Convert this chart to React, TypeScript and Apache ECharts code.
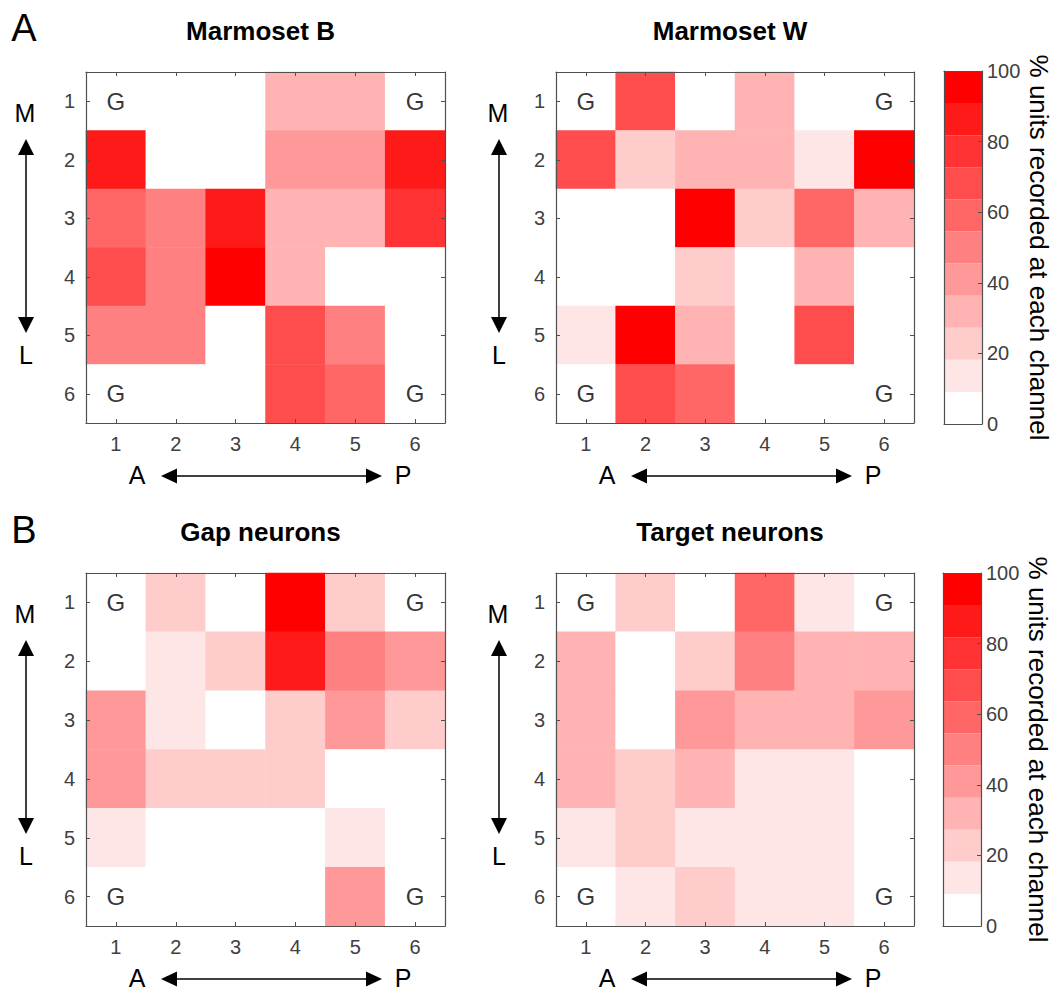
import React, { useEffect, useRef } from 'react';
import * as echarts from 'echarts';

// ---------- data ----------
const rowLabels = ['1', '2', '3', '4', '5', '6'];
const colLabels = ['1', '2', '3', '4', '5', '6'];
const panelTitles = ['Marmoset B', 'Marmoset W', 'Gap neurons', 'Target neurons'];
const panelLetters = ['A', 'B'];
const colorbarLabel = '% units recorded at each channel';
// 11-step white -> red colormap (0..100 in 11 bins)
const levelColors = ['#ffffff', '#ffe6e6', '#ffcccc', '#ffb3b3', '#ff9999', '#ff8080', '#ff6666', '#ff4d4d', '#ff3333', '#ff1a1a', '#ff0000'];
// percent of units recorded at each channel (rows = M..L, cols = A..P)
const marmosetB = [
  [0, 0, 0, 32, 32, 0],
  [86, 0, 0, 41, 41, 86],
  [59, 50, 86, 32, 32, 77],
  [68, 50, 95, 32, 0, 0],
  [50, 50, 0, 68, 50, 0],
  [0, 0, 0, 68, 59, 0],
];
const marmosetW = [
  [0, 68, 0, 32, 0, 0],
  [68, 23, 32, 32, 14, 95],
  [0, 0, 95, 23, 59, 32],
  [0, 0, 23, 0, 32, 0],
  [14, 95, 32, 0, 68, 0],
  [0, 68, 59, 0, 0, 0],
];
const gapNeurons = [
  [0, 23, 0, 95, 23, 0],
  [0, 14, 23, 86, 50, 41],
  [41, 14, 0, 23, 41, 23],
  [41, 23, 23, 23, 0, 0],
  [14, 0, 0, 0, 14, 0],
  [0, 0, 0, 0, 41, 0],
];
const targetNeurons = [
  [0, 23, 0, 59, 14, 0],
  [32, 0, 23, 50, 32, 32],
  [32, 0, 41, 32, 32, 41],
  [32, 23, 32, 14, 14, 0],
  [14, 23, 14, 14, 14, 0],
  [0, 14, 23, 14, 14, 0],
];
const gCells = [[0, 0], [5, 0], [0, 5], [5, 5]];

// ---------- layout ----------
const FONT = "'Liberation Sans', Arial, Helvetica, sans-serif";
const AXIS_COLOR = '#505050';
const LABEL_COLOR = '#404040';
const panels = [
  { left: 86, top: 72, width: 359, height: 351, arrowX: 26 },
  { left: 556, top: 72, width: 358, height: 351, arrowX: 499 },
  { left: 86, top: 573, width: 359, height: 353, arrowX: 26 },
  { left: 556, top: 573, width: 358, height: 353, arrowX: 499 },
];
const colorbars = [
  { left: 944, top: 71, width: 38, height: 353 },
  { left: 943, top: 573, width: 38, height: 353 },
];

function vArrow(x: number, y1: number, y2: number) {
  const h = 16, w = 8;
  return [
    { type: 'line', shape: { x1: x, y1: y1 + h - 2, x2: x, y2: y2 - h + 2 }, style: { stroke: '#000', lineWidth: 1.5 } },
    { type: 'polygon', shape: { points: [[x, y1], [x - w, y1 + h], [x + w, y1 + h]] }, style: { fill: '#000' } },
    { type: 'polygon', shape: { points: [[x, y2], [x - w, y2 - h], [x + w, y2 - h]] }, style: { fill: '#000' } },
  ];
}
function hArrow(y: number, x1: number, x2: number) {
  const h = 16, w = 7.5;
  return [
    { type: 'line', shape: { x1: x1 + h - 2, y1: y, x2: x2 - h + 2, y2: y }, style: { stroke: '#000', lineWidth: 1.5 } },
    { type: 'polygon', shape: { points: [[x1, y], [x1 + h, y - w], [x1 + h, y + w]] }, style: { fill: '#000' } },
    { type: 'polygon', shape: { points: [[x2, y], [x2 - h, y - w], [x2 - h, y + w]] }, style: { fill: '#000' } },
  ];
}
function txt(text: string, x: number, y: number, fontSize: number, fontWeight = 'normal') {
  return {
    type: 'text', x, y, z: 20,
    style: {
      text, fill: '#000', fontSize, fontWeight, fontFamily: FONT,
      align: 'center', verticalAlign: 'middle', textAlign: 'center', textVerticalAlign: 'middle',
    },
  };
}

export default function App() {
  const ref = useRef<HTMLDivElement>(null);
  useEffect(() => {
    document.body.style.margin = '0';
    const chart = echarts.init(ref.current!, undefined, { renderer: 'svg' });
    const matrices = [marmosetB, marmosetW, gapNeurons, targetNeurons];

    const grids: any[] = [];
    const xAxes: any[] = [];
    const yAxes: any[] = [];
    const series: any[] = [];
    const tick = (show: boolean) => ({ show, inside: true, length: 4, alignWithLabel: true, lineStyle: { color: AXIS_COLOR } });
    const line = { show: true, onZero: false, lineStyle: { color: AXIS_COLOR, width: 1.2 } };
    const lbl = (show: boolean) => ({ show, fontSize: 20, color: LABEL_COLOR, margin: 11, fontFamily: FONT });

    panels.forEach((p, i) => {
      grids.push({ left: p.left, top: p.top, width: p.width, height: p.height });
      xAxes.push({ type: 'category', gridIndex: i, data: colLabels, position: 'bottom', z: 10, axisLine: line, axisTick: tick(true), axisLabel: lbl(true), splitLine: { show: false } });
      xAxes.push({ type: 'category', gridIndex: i, data: colLabels, position: 'top', z: 10, axisLine: line, axisTick: tick(true), axisLabel: lbl(false), splitLine: { show: false } });
      yAxes.push({ type: 'category', gridIndex: i, data: rowLabels, inverse: true, position: 'left', z: 10, axisLine: line, axisTick: tick(true), axisLabel: lbl(true), splitLine: { show: false } });
      yAxes.push({ type: 'category', gridIndex: i, data: rowLabels, inverse: true, position: 'right', z: 10, axisLine: line, axisTick: tick(true), axisLabel: lbl(false), splitLine: { show: false } });
    });

    matrices.forEach((m, i) => {
      const data: number[][] = [];
      m.forEach((row, r) => row.forEach((v, c) => data.push([c, r, v])));
      series.push({
        type: 'heatmap', xAxisIndex: 2 * i, yAxisIndex: 2 * i, data, silent: true,
        itemStyle: { borderWidth: 0 }, emphasis: { disabled: true },
      });
    });
    matrices.forEach((_, i) => {
      series.push({
        type: 'scatter', xAxisIndex: 2 * i, yAxisIndex: 2 * i, data: gCells, silent: true,
        symbolSize: 1, itemStyle: { color: 'rgba(0,0,0,0)' }, z: 6,
        label: { show: true, position: 'inside', formatter: 'G', fontSize: 24, color: '#000', fontFamily: FONT },
      });
    });

    colorbars.forEach((cb, c) => {
      const gi = panels.length + c;
      grids.push({ left: cb.left, top: cb.top, width: cb.width, height: cb.height });
      const xb = xAxes.length;
      xAxes.push({ type: 'category', gridIndex: gi, data: ['cb'], position: 'bottom', z: 10, axisLine: line, axisTick: { show: false }, axisLabel: { show: false } });
      xAxes.push({ type: 'category', gridIndex: gi, data: ['cb'], position: 'top', z: 10, axisLine: line, axisTick: { show: false }, axisLabel: { show: false } });
      const yb = yAxes.length;
      yAxes.push({
        type: 'value', gridIndex: gi, min: 0, max: 100, interval: 20, position: 'right', z: 10,
        axisLine: line, axisTick: { show: true, inside: true, length: 4, lineStyle: { color: AXIS_COLOR } },
        axisLabel: { show: true, fontSize: 20, color: LABEL_COLOR, margin: 5, fontFamily: FONT },
        splitLine: { show: false },
        name: colorbarLabel, nameLocation: 'middle', nameRotate: -90, nameGap: 44,
        nameTextStyle: { fontSize: 26, color: '#000', fontFamily: FONT },
      });
      yAxes.push({ type: 'value', gridIndex: gi, min: 0, max: 100, position: 'left', z: 10, axisLine: line, axisTick: { show: false }, axisLabel: { show: false }, splitLine: { show: false } });
      levelColors.forEach((col) => {
        series.push({
          type: 'bar', xAxisIndex: xb, yAxisIndex: yb, stack: 'cb' + c, silent: true,
          data: [100 / levelColors.length], barWidth: '100%', itemStyle: { color: col },
        });
      });
    });

    const graphics: any[] = [];
    panels.forEach((p, i) => {
      const cx = p.left + p.width / 2 - 5;
      const ty = p.top < 300 ? 31 : 532;
      graphics.push(txt(panelTitles[i], cx, ty, 26, 'bold'));
      // M / L vertical arrow
      graphics.push(txt('M', p.arrowX - 1, p.top + 41, 25));
      graphics.push(txt('L', p.arrowX, p.top + 283, 25));
      graphics.push(...vArrow(p.arrowX, p.top + 67, p.top + 261));
      // A / P horizontal arrow
      const ay = p.top + p.height + 53;
      graphics.push(txt('A', p.left + 51, ay - 1, 25));
      graphics.push(txt('P', p.left + 317, ay - 1, 25));
      graphics.push(...hArrow(ay, p.left + 75, p.left + 296));
    });
    graphics.push(txt(panelLetters[0], 24, 28, 38));
    graphics.push(txt(panelLetters[1], 24, 530, 38));

    chart.setOption({
      animation: false,
      grid: grids,
      xAxis: xAxes,
      yAxis: yAxes,
      visualMap: {
        type: 'piecewise', show: false, dimension: 2, seriesIndex: [0, 1, 2, 3],
        pieces: levelColors.map((col, k) => ({
          gte: (k * 100) / levelColors.length,
          lt: k === levelColors.length - 1 ? 100.001 : ((k + 1) * 100) / levelColors.length,
          color: col,
        })),
      },
      series,
      graphic: graphics,
    });
    return () => chart.dispose();
  }, []);
  return <div ref={ref} style={{ width: 1053, height: 991, background: '#fff' }} />;
}
